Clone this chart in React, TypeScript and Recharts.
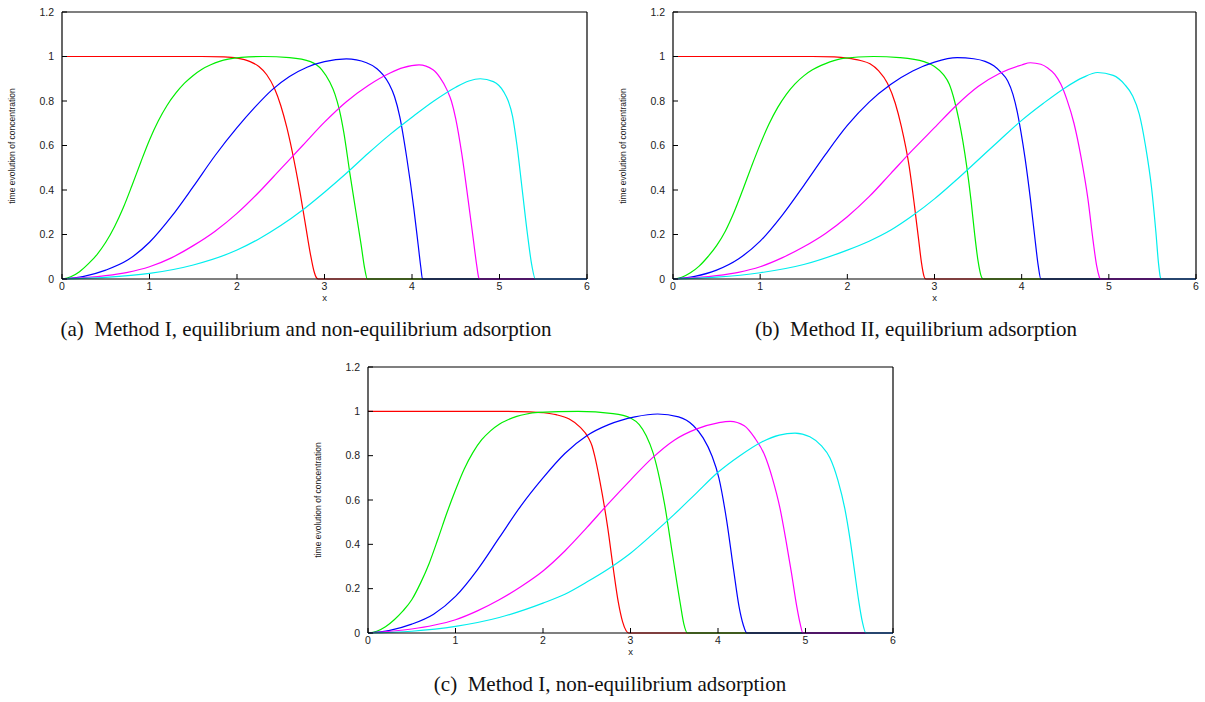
import React from "react";
import { Label, Line, LineChart, XAxis, YAxis } from "recharts";

type Pt = [number, number];

const X_TICKS = [0, 1, 2, 3, 4, 5, 6];
const Y_TICKS = [0, 0.2, 0.4, 0.6, 0.8, 1, 1.2];
const COLORS = ["#ff0000", "#00ee00", "#0000ff", "#ff00ff", "#00eeee"];

// (a) Method I, equilibrium and non-equilibrium adsorption
const aRed: Pt[] = [[0, 1], [1.6, 1], [1.85, 0.998], [2.0, 0.993], [2.15, 0.977], [2.25, 0.955], [2.34, 0.918], [2.43, 0.855], [2.5, 0.78], [2.57, 0.68], [2.63, 0.575], [2.72, 0.39], [2.78, 0.25], [2.84, 0.11], [2.88, 0.035], [2.91, 0.005], [2.93, 0], [6, 0]];
const aGreen: Pt[] = [[0, 0], [0.1, 0.01], [0.2, 0.033], [0.3, 0.068], [0.4, 0.11], [0.5, 0.165], [0.6, 0.235], [0.7, 0.32], [0.8, 0.42], [0.9, 0.525], [1.0, 0.625], [1.1, 0.71], [1.2, 0.78], [1.3, 0.835], [1.4, 0.88], [1.5, 0.915], [1.6, 0.943], [1.7, 0.963], [1.8, 0.978], [1.9, 0.988], [2.05, 0.996], [2.3, 1.0], [2.6, 0.995], [2.84, 0.977], [2.97, 0.94], [3.06, 0.885], [3.12, 0.83], [3.17, 0.76], [3.22, 0.66], [3.29, 0.475], [3.36, 0.3], [3.42, 0.15], [3.46, 0.045], [3.49, 0], [6, 0]];
const aBlue: Pt[] = [[0, 0], [0.25, 0.012], [0.5, 0.04], [0.75, 0.085], [1.0, 0.165], [1.25, 0.28], [1.5, 0.415], [1.75, 0.555], [2.0, 0.68], [2.2, 0.77], [2.4, 0.85], [2.6, 0.91], [2.8, 0.952], [3.0, 0.977], [3.25, 0.989], [3.48, 0.972], [3.6, 0.945], [3.67, 0.917], [3.74, 0.875], [3.8, 0.82], [3.86, 0.73], [3.94, 0.545], [4.02, 0.32], [4.07, 0.155], [4.1, 0.055], [4.12, 0], [6, 0]];
const aMagenta: Pt[] = [[0, 0], [0.5, 0.015], [0.75, 0.03], [1.0, 0.055], [1.25, 0.095], [1.5, 0.15], [1.75, 0.215], [2.0, 0.295], [2.25, 0.39], [2.5, 0.495], [2.75, 0.6], [3.0, 0.705], [3.25, 0.797], [3.5, 0.87], [3.75, 0.926], [3.9, 0.95], [4.08, 0.962], [4.24, 0.94], [4.32, 0.905], [4.4, 0.85], [4.45, 0.8], [4.5, 0.72], [4.57, 0.56], [4.64, 0.36], [4.7, 0.18], [4.74, 0.06], [4.76, 0.01], [4.77, 0], [6, 0]];
const aCyan: Pt[] = [[0, 0], [0.5, 0.007], [1.0, 0.025], [1.5, 0.063], [2.0, 0.13], [2.25, 0.18], [2.5, 0.24], [2.75, 0.31], [3.0, 0.39], [3.25, 0.475], [3.5, 0.565], [3.75, 0.65], [4.0, 0.727], [4.25, 0.8], [4.5, 0.862], [4.65, 0.89], [4.78, 0.9], [4.93, 0.887], [5.05, 0.84], [5.1, 0.8], [5.15, 0.73], [5.2, 0.6], [5.26, 0.4], [5.32, 0.2], [5.37, 0.06], [5.41, 0], [6, 0]];

// (b) Method II, equilibrium adsorption
const bRed: Pt[] = [[0, 1], [1.6, 1], [1.85, 0.998], [2.0, 0.993], [2.15, 0.982], [2.26, 0.967], [2.36, 0.935], [2.46, 0.88], [2.55, 0.79], [2.62, 0.685], [2.71, 0.505], [2.77, 0.33], [2.82, 0.17], [2.85, 0.075], [2.88, 0.012], [2.9, 0], [6, 0]];
const bGreen: Pt[] = [[0, 0], [0.1, 0.008], [0.2, 0.028], [0.3, 0.058], [0.4, 0.1], [0.5, 0.15], [0.6, 0.215], [0.7, 0.3], [0.8, 0.4], [0.9, 0.505], [1.0, 0.605], [1.1, 0.695], [1.2, 0.77], [1.3, 0.83], [1.4, 0.877], [1.5, 0.913], [1.6, 0.94], [1.7, 0.96], [1.8, 0.976], [1.95, 0.992], [2.3, 1.0], [2.6, 0.995], [2.88, 0.977], [3.0, 0.955], [3.1, 0.92], [3.17, 0.875], [3.23, 0.8], [3.28, 0.715], [3.37, 0.505], [3.42, 0.35], [3.46, 0.204], [3.5, 0.08], [3.53, 0.02], [3.56, 0], [6, 0]];
const bBlue: Pt[] = [[0, 0], [0.25, 0.012], [0.5, 0.04], [0.75, 0.09], [1.0, 0.17], [1.25, 0.285], [1.5, 0.42], [1.75, 0.56], [2.0, 0.69], [2.25, 0.795], [2.5, 0.875], [2.75, 0.935], [3.0, 0.975], [3.26, 0.995], [3.45, 0.99], [3.58, 0.978], [3.68, 0.958], [3.76, 0.93], [3.84, 0.89], [3.9, 0.83], [3.95, 0.75], [3.99, 0.665], [4.04, 0.54], [4.1, 0.36], [4.15, 0.19], [4.19, 0.06], [4.22, 0], [6, 0]];
const bMagenta: Pt[] = [[0, 0], [0.5, 0.015], [0.75, 0.03], [1.0, 0.055], [1.25, 0.095], [1.5, 0.145], [1.75, 0.205], [2.0, 0.28], [2.25, 0.37], [2.5, 0.475], [2.75, 0.58], [3.0, 0.68], [3.25, 0.78], [3.5, 0.865], [3.75, 0.925], [4.0, 0.962], [4.1, 0.972], [4.22, 0.965], [4.3, 0.948], [4.38, 0.92], [4.45, 0.875], [4.52, 0.805], [4.6, 0.7], [4.68, 0.55], [4.76, 0.36], [4.82, 0.17], [4.86, 0.06], [4.89, 0.01], [4.9, 0], [6, 0]];
const bCyan: Pt[] = [[0, 0], [0.5, 0.008], [1.0, 0.028], [1.5, 0.065], [2.0, 0.13], [2.25, 0.17], [2.5, 0.22], [2.75, 0.285], [3.0, 0.36], [3.25, 0.445], [3.5, 0.535], [3.75, 0.625], [4.0, 0.713], [4.25, 0.79], [4.5, 0.86], [4.7, 0.905], [4.87, 0.928], [5.05, 0.915], [5.18, 0.875], [5.27, 0.825], [5.35, 0.74], [5.42, 0.6], [5.49, 0.41], [5.54, 0.21], [5.57, 0.07], [5.59, 0.01], [5.6, 0], [6, 0]];

// (c) Method I, non-equilibrium adsorption
const cRed: Pt[] = [[0, 1], [1.6, 1], [1.85, 0.998], [2.0, 0.994], [2.15, 0.985], [2.3, 0.965], [2.42, 0.93], [2.52, 0.88], [2.56, 0.845], [2.59, 0.8], [2.65, 0.685], [2.74, 0.474], [2.8, 0.3], [2.86, 0.14], [2.91, 0.05], [2.95, 0.01], [2.98, 0], [6, 0]];
const cGreen: Pt[] = [[0, 0], [0.1, 0.008], [0.2, 0.028], [0.3, 0.06], [0.4, 0.1], [0.5, 0.15], [0.6, 0.225], [0.7, 0.315], [0.8, 0.425], [0.9, 0.54], [1.0, 0.645], [1.1, 0.74], [1.2, 0.815], [1.3, 0.872], [1.4, 0.912], [1.5, 0.942], [1.6, 0.962], [1.7, 0.977], [1.8, 0.987], [1.95, 0.995], [2.4, 1.0], [2.8, 0.99], [3.0, 0.97], [3.1, 0.94], [3.18, 0.89], [3.26, 0.81], [3.33, 0.7], [3.39, 0.58], [3.48, 0.354], [3.57, 0.13], [3.61, 0.04], [3.65, 0], [6, 0]];
const cBlue: Pt[] = [[0, 0], [0.25, 0.012], [0.5, 0.04], [0.75, 0.085], [1.0, 0.165], [1.25, 0.285], [1.5, 0.43], [1.75, 0.575], [2.0, 0.7], [2.25, 0.81], [2.5, 0.89], [2.75, 0.94], [3.05, 0.975], [3.31, 0.988], [3.55, 0.975], [3.72, 0.935], [3.83, 0.88], [3.93, 0.8], [4.01, 0.7], [4.1, 0.505], [4.18, 0.28], [4.24, 0.12], [4.29, 0.035], [4.33, 0], [6, 0]];
const cMagenta: Pt[] = [[0, 0], [0.5, 0.018], [0.75, 0.035], [1.0, 0.06], [1.25, 0.1], [1.5, 0.15], [1.75, 0.21], [2.0, 0.28], [2.25, 0.37], [2.5, 0.475], [2.75, 0.585], [3.0, 0.69], [3.25, 0.79], [3.5, 0.87], [3.75, 0.92], [4.0, 0.948], [4.14, 0.955], [4.3, 0.935], [4.42, 0.88], [4.53, 0.805], [4.62, 0.7], [4.71, 0.56], [4.78, 0.41], [4.84, 0.27], [4.9, 0.12], [4.94, 0.04], [4.97, 0], [6, 0]];
const cCyan: Pt[] = [[0, 0], [0.5, 0.008], [1.0, 0.03], [1.5, 0.07], [2.0, 0.135], [2.25, 0.175], [2.5, 0.23], [2.75, 0.29], [3.0, 0.36], [3.25, 0.445], [3.5, 0.535], [3.75, 0.63], [4.0, 0.725], [4.25, 0.8], [4.5, 0.862], [4.7, 0.893], [4.88, 0.902], [5.05, 0.885], [5.18, 0.845], [5.28, 0.79], [5.37, 0.69], [5.45, 0.56], [5.51, 0.42], [5.56, 0.28], [5.61, 0.14], [5.65, 0.05], [5.69, 0], [6, 0]];

const SANS = "Liberation Sans, Arial, sans-serif";
const tickStyle = { fontSize: 10.5, fill: "#222", fontFamily: SANS };
const empty = () => "";

type PanelProps = {
  left: number;
  top: number;
  width: number;
  height: number;
  series: Pt[][];
  caption: string;
  captionX: number;
  captionY: number;
};

function Panel({ left, top, width, height, series, caption, captionX, captionY }: PanelProps) {
  return (
    <>
      <div style={{ position: "absolute", left: left - 40, top: top - 10 }}>
        <LineChart width={width + 50} height={height + 40} margin={{ top: 0, right: 0, bottom: 0, left: 0 }}>
          <XAxis
            xAxisId="b"
            type="number"
            dataKey="x"
            domain={[0, 6]}
            ticks={X_TICKS}
            height={30}
            tickSize={-5}
            tickMargin={9}
            tick={tickStyle}
            axisLine={{ stroke: "#000", strokeWidth: 1.2 }}
            tickLine={{ stroke: "#000" }}
          >
            <Label value="x" position="insideBottom" offset={8} style={{ fontSize: 9.5, fill: "#222", fontFamily: SANS }} />
          </XAxis>
          <XAxis
            xAxisId="t"
            orientation="top"
            type="number"
            dataKey="x"
            domain={[0, 6]}
            ticks={X_TICKS}
            height={10}
            tickSize={-5}
            tickFormatter={empty}
            axisLine={{ stroke: "#000", strokeWidth: 1.2 }}
            tickLine={{ stroke: "#000" }}
          />
          <YAxis
            yAxisId="l"
            type="number"
            domain={[0, 1.2]}
            ticks={Y_TICKS}
            width={40}
            tickSize={-5}
            tickMargin={13}
            tick={tickStyle}
            axisLine={{ stroke: "#000", strokeWidth: 1.2 }}
            tickLine={{ stroke: "#000" }}
          />
          <YAxis
            yAxisId="r"
            orientation="right"
            type="number"
            domain={[0, 1.2]}
            ticks={Y_TICKS}
            width={10}
            tickSize={-5}
            tickFormatter={empty}
            axisLine={{ stroke: "#000", strokeWidth: 1.2 }}
            tickLine={{ stroke: "#000" }}
          />
          {series.map((s, i) => (
            <Line
              key={i}
              xAxisId="b"
              yAxisId="l"
              data={s.map(([x, y]) => ({ x, y }))}
              dataKey="y"
              type="monotone"
              stroke={COLORS[i]}
              strokeWidth={1.2}
              dot={false}
              isAnimationActive={false}
            />
          ))}
        </LineChart>
      </div>
      <div
        style={{
          position: "absolute",
          left: left - 50,
          top: top + height / 2,
          transform: "translate(-50%, -50%) rotate(-90deg)",
          fontSize: 8.5,
          color: "#222",
          fontFamily: SANS,
          whiteSpace: "nowrap",
        }}
      >
        time evolution of concentration
      </div>
      <div
        style={{
          position: "absolute",
          left: captionX,
          top: captionY,
          transform: "translate(-50%, -50%)",
          fontSize: 21,
          color: "#111",
          fontFamily: "Liberation Serif, Times New Roman, serif",
          whiteSpace: "pre",
        }}
      >
        {caption}
      </div>
    </>
  );
}

export default function App() {
  return (
    <div style={{ position: "absolute", left: 0, top: 0, width: 1205, height: 702, background: "#fff", overflow: "hidden" }}>
      <Panel
        left={62}
        top={12}
        width={525}
        height={267}
        series={[aRed, aGreen, aBlue, aMagenta, aCyan]}
        caption="(a)  Method I, equilibrium and non-equilibrium adsorption"
        captionX={306}
        captionY={329}
      />
      <Panel
        left={673}
        top={12}
        width={523}
        height={267}
        series={[bRed, bGreen, bBlue, bMagenta, bCyan]}
        caption="(b)  Method II, equilibrium adsorption"
        captionX={916}
        captionY={329}
      />
      <Panel
        left={368}
        top={367}
        width={525}
        height={266}
        series={[cRed, cGreen, cBlue, cMagenta, cCyan]}
        caption="(c)  Method I, non-equilibrium adsorption"
        captionX={610}
        captionY={684}
      />
    </div>
  );
}
